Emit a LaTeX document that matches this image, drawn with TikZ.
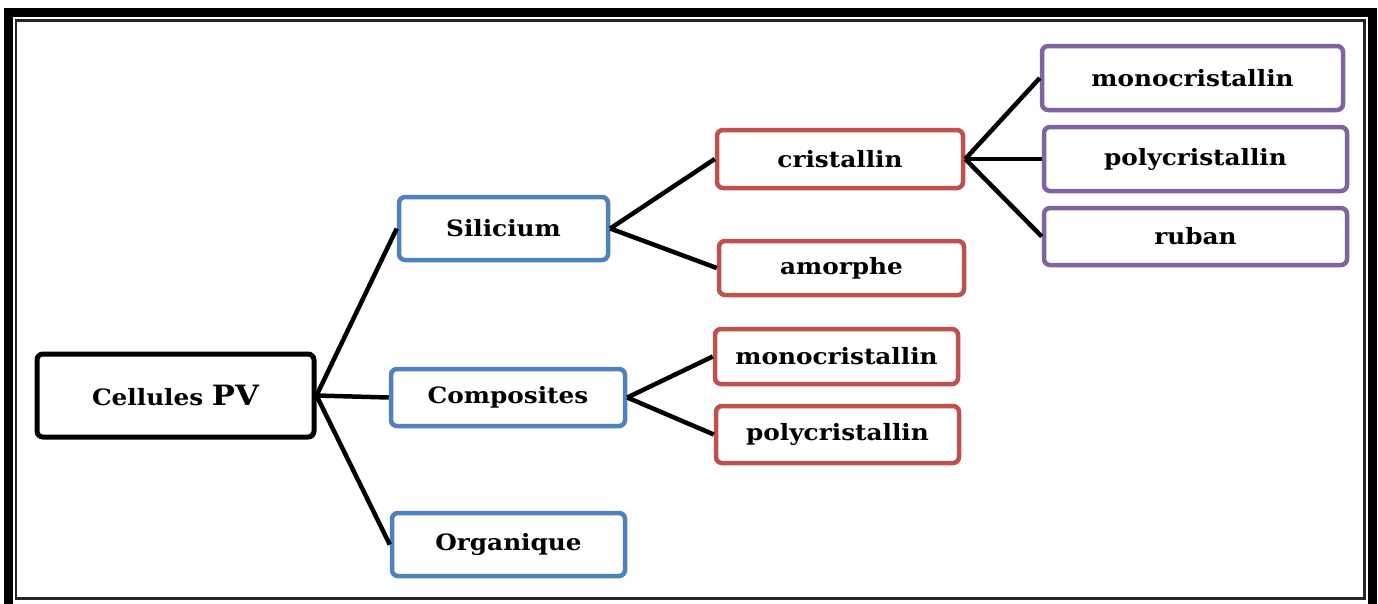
\documentclass[tikz,border=0pt]{standalone}
\usepackage{fontspec}
\setmainfont{DejaVu Serif}[FakeStretch=1.1]
\definecolor{ublue}{HTML}{4F81BD}
\definecolor{ured}{HTML}{C0504D}
\definecolor{upurple}{HTML}{8064A2}
\begin{document}
\begin{tikzpicture}[x=1pt,y=-1pt,
  box/.style={draw, rectangle, rounded corners=6pt, line width=4.5pt, fill=white,
    inner sep=0pt, font=\fontsize{22.5}{26}\selectfont\bfseries},
  bluebox/.style={box, draw=ublue},
  redbox/.style={box, draw=ured},
  purplebox/.style={box, draw=upurple},
  link/.style={line width=4.5pt, black}]
\clip (0,0) rectangle (1378,603);
\useasboundingbox (0,0) rectangle (1378,603);
\fill[white] (0,0) rectangle (1378,603);
% frame
\draw[line width=9pt] (8,12) rectangle (1372,608);
\draw[line width=2.5pt, black!85] (16,20.5) rectangle (1364.5,598.5);
% nodes
\node[box, draw=black, line width=5pt, minimum width=277pt, minimum height=83pt] (cell) at (175.5,395.5) {Cellules {\fontsize{28}{32}\selectfont PV}};
\node[bluebox, minimum width=209pt, minimum height=63pt] (sil) at (503.5,228.5) {Silicium};
\node[bluebox, minimum width=234pt, minimum height=57pt] (comp) at (508,397.5) {Composites};
\node[bluebox, minimum width=233pt, minimum height=63pt] (org) at (508.5,544.5) {Organique};
\node[redbox, minimum width=246pt, minimum height=58pt] (cris) at (840,159) {cristallin};
\node[redbox, minimum width=245pt, minimum height=54pt] (amor) at (841.5,268) {amorphe};
\node[redbox, minimum width=243pt, minimum height=55pt] (cmono) at (836.5,356.5) {monocristallin};
\node[redbox, minimum width=243pt, minimum height=57pt] (cpoly) at (837.5,434.5) {polycristallin};
\node[purplebox, minimum width=301pt, minimum height=64pt] (pmono) at (1192.5,78) {monocristallin};
\node[purplebox, minimum width=303pt, minimum height=64pt] (ppoly) at (1195.5,159) {polycristallin};
\node[purplebox, minimum width=303pt, minimum height=57pt] (ruban) at (1195.5,236.5) {ruban};
% connectors
\draw[link] (cell.east) -- (sil.west);
\draw[link] (cell.east) -- (comp.west);
\draw[link] (cell.east) -- (org.west);
\draw[link] (sil.east) -- (cris.west);
\draw[link] (sil.east) -- (amor.west);
\draw[link] (comp.east) -- (cmono.west);
\draw[link] (comp.east) -- (cpoly.west);
\draw[link] (cris.east) -- (pmono.west);
\draw[link] (cris.east) -- (ppoly.west);
\draw[link] (cris.east) -- (ruban.west);
\end{tikzpicture}
\end{document}
